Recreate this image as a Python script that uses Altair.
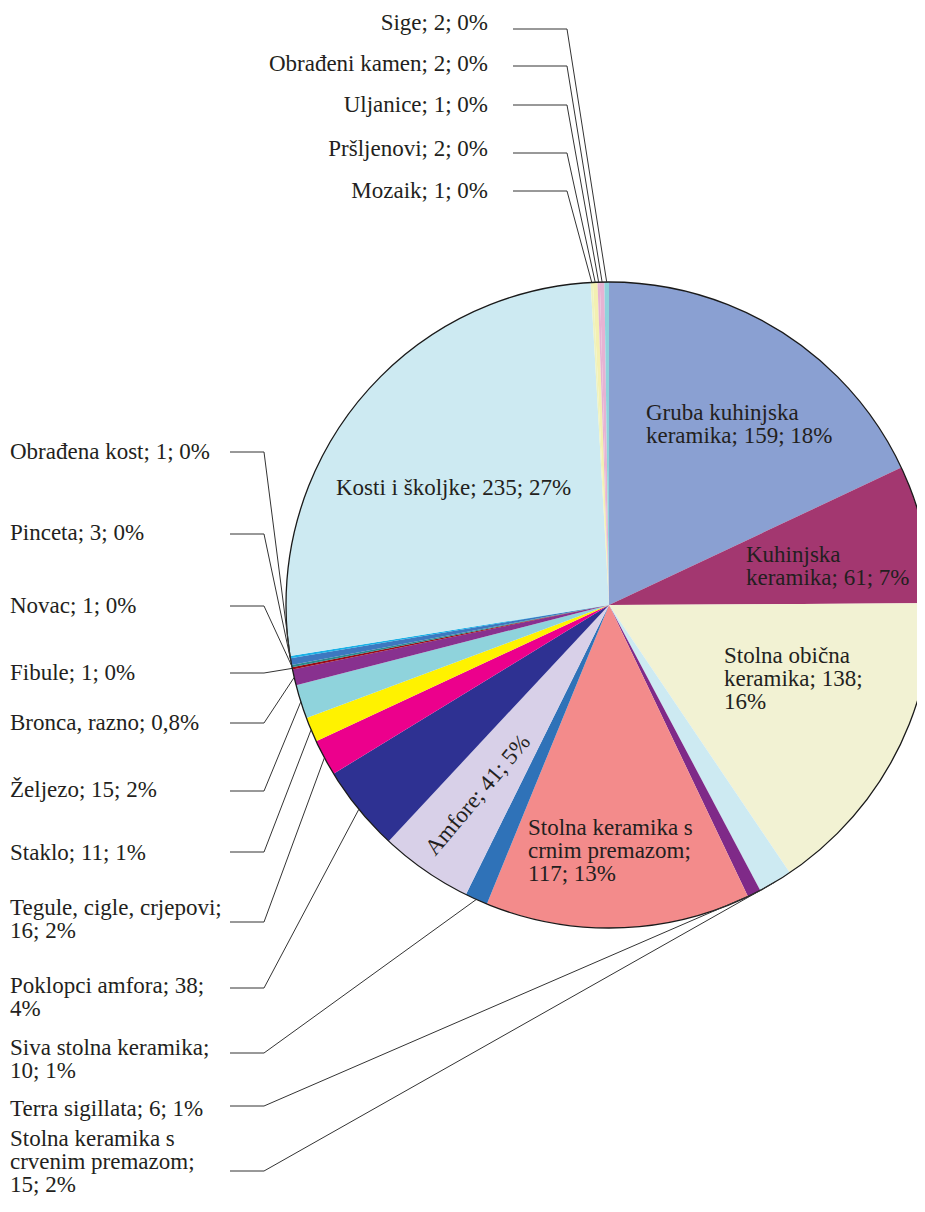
import altair as alt
import pandas as pd
import numpy as np

# ---------------- data (clockwise from 12 o'clock) ----------------
categories = [
    "Gruba kuhinjska keramika", "Kuhinjska keramika", "Stolna obična keramika",
    "Stolna keramika s crvenim premazom", "Terra sigillata",
    "Stolna keramika s crnim premazom", "Siva stolna keramika", "Amfore",
    "Poklopci amfora", "Tegule, cigle, crjepovi", "Staklo", "Željezo",
    "Bronca, razno", "Fibule", "Novac", "Pinceta", "Obrađena kost",
    "Kosti i školjke", "Mozaik", "Pršljenovi", "Uljanice", "Obrađeni kamen", "Sige",
]
values = [159, 61, 138, 15, 6, 117, 10, 41, 38, 16, 11, 15, 7, 1, 1, 3, 1, 235, 1, 2, 1, 2, 2]
label_texts = [
    "Gruba kuhinjska\nkeramika; 159; 18%",
    "Kuhinjska\nkeramika; 61; 7%",
    "Stolna obična\nkeramika; 138;\n16%",
    "Stolna keramika s\ncrvenim premazom;\n15; 2%",
    "Terra sigillata; 6; 1%",
    "Stolna keramika s\ncrnim premazom;\n117; 13%",
    "Siva stolna keramika;\n10; 1%",
    "Amfore; 41; 5%",
    "Poklopci amfora; 38;\n4%",
    "Tegule, cigle, crjepovi;\n16; 2%",
    "Staklo; 11; 1%",
    "Željezo; 15; 2%",
    "Bronca, razno; 0,8%",
    "Fibule; 1; 0%",
    "Novac; 1; 0%",
    "Pinceta; 3; 0%",
    "Obrađena kost; 1; 0%",
    "Kosti i školjke; 235; 27%",
    "Mozaik; 1; 0%",
    "Pršljenovi; 2; 0%",
    "Uljanice; 1; 0%",
    "Obrađeni kamen; 2; 0%",
    "Sige; 2; 0%",
]
colors = [
    "#8aa0d2", "#a33770", "#f2f2d3", "#cdeaf2", "#7f2a88",
    "#f38b8b", "#2f72b8", "#d8d0e8", "#2e3192", "#ec008c",
    "#fff200", "#8fd3dc", "#88318f", "#9b0a12", "#2a8a8f",
    "#3d78c0", "#1ab0e6", "#cdeaf2", "#eef2c0", "#f3f0b2",
    "#e6b3d3", "#e6b3d3", "#8fd3dc",
]

# ---------------- layout (image pixel coordinates) ----------------
W, H, OFF = 909, 1190, 8
CX, CY, R = 609, 605, 323
LH = 23.2

inside_pos = {  # name: (x, first-line baseline)
    "Gruba kuhinjska keramika": (646, 420),
    "Kuhinjska keramika": (746, 562),
    "Stolna obična keramika": (724, 663),
    "Stolna keramika s crnim premazom": (528, 835),
    "Kosti i školjke": (336, 495),
}
rotated_pos = {"Amfore": (478, 795, 310)}
left_pos = {  # name: (first-line baseline, leader y)
    "Obrađena kost": (459, 452),
    "Pinceta": (540, 534),
    "Novac": (613, 606),
    "Fibule": (680, 673),
    "Bronca, razno": (730, 723),
    "Željezo": (797, 791),
    "Staklo": (860, 852),
    "Tegule, cigle, crjepovi": (915, 922),
    "Poklopci amfora": (993, 988),
    "Siva stolna keramika": (1055, 1053),
    "Terra sigillata": (1116, 1106),
    "Stolna keramika s crvenim premazom": (1146, 1171),
}
top_pos = {
    "Sige": (30, 29),
    "Obrađeni kamen": (71, 66),
    "Uljanice": (112, 105),
    "Pršljenovi": (156, 153),
    "Mozaik": (198, 191),
}
LEFT_TEXT_X, LEFT_LINE_X0, LEFT_ELBOW = 10, 230, 264
TOP_TEXT_X, TOP_LINE_X0, TOP_ELBOW = 488, 513, 567
MID_SHIFT = 7  # baseline -> visual middle

# ---------------- derived tables ----------------
df = pd.DataFrame({"cat": categories, "value": values, "idx": range(len(values))})
total = df["value"].sum()
cum = df["value"].cumsum() - df["value"] / 2
df["mid"] = cum / total * 2 * np.pi
df["ex"] = CX + R * np.sin(df["mid"])
df["ey"] = CY - R * np.cos(df["mid"])
lab = dict(zip(categories, label_texts))
edge = {c: (ex, ey) for c, ex, ey in zip(df["cat"], df["ex"], df["ey"])}

texts, rules = [], []


def add_text(x, y, t, grp):
    for i, line in enumerate(t.split("\n")):
        texts.append({"x": x, "y": y + i * LH - MID_SHIFT, "t": line, "g": grp})


for c, (x, y) in inside_pos.items():
    add_text(x, y, lab[c], "in")
for c, (ty, ly) in left_pos.items():
    add_text(LEFT_TEXT_X, ty, lab[c], "left")
    ex, ey = edge[c]
    rules.append({"x": LEFT_LINE_X0, "y": ly, "x2": LEFT_ELBOW, "y2": ly})
    rules.append({"x": LEFT_ELBOW, "y": ly, "x2": ex, "y2": ey})
for c, (ty, ly) in top_pos.items():
    add_text(TOP_TEXT_X, ty, lab[c], "top")
    ex, ey = edge[c]
    rules.append({"x": TOP_LINE_X0, "y": ly, "x2": TOP_ELBOW, "y2": ly})
    rules.append({"x": TOP_ELBOW, "y": ly, "x2": ex, "y2": ey})
tdf = pd.DataFrame(texts)
rdf = pd.DataFrame(rules)
rot = pd.DataFrame([{"x": v[0], "y": v[1], "t": lab[k]} for k, v in rotated_pos.items()])

xs = alt.Scale(domain=[OFF, OFF + W], nice=False, zero=False)
ys = alt.Scale(domain=[OFF, OFF + H], nice=False, zero=False, reverse=True)
FONT = "Liberation Serif"
TXT = "#231f20"

pie = alt.Chart(df).mark_arc(radius=R, strokeWidth=0).encode(
    theta=alt.Theta("value:Q", stack=True),
    order=alt.Order("idx:Q"),
    color=alt.Color("cat:N", scale=alt.Scale(domain=categories, range=colors), legend=None),
    x=alt.value(CX - OFF),
    y=alt.value(CY - OFF),
)
# circular outline of the whole pie
outline = alt.Chart(pd.DataFrame({"v": [1]})).mark_point(
    shape="circle", size=(2 * R) ** 2, filled=False, stroke="#1a1a1a",
    strokeWidth=1.3, opacity=1,
).encode(x=alt.value(CX - OFF), y=alt.value(CY - OFF))

leaders = alt.Chart(rdf).mark_rule(color="#333333", strokeWidth=1).encode(
    x=alt.X("x:Q", scale=xs, axis=None),
    y=alt.Y("y:Q", scale=ys, axis=None),
    x2="x2:Q", y2="y2:Q",
)


def text_layer(data, align):
    return alt.Chart(data).mark_text(
        font=FONT, fontSize=23, color=TXT, align=align, baseline="middle",
    ).encode(x=alt.X("x:Q", scale=xs, axis=None), y=alt.Y("y:Q", scale=ys, axis=None), text="t:N")


in_text = text_layer(tdf[tdf.g == "in"], "left")
left_text = text_layer(tdf[tdf.g == "left"], "left")
top_text = text_layer(tdf[tdf.g == "top"], "right")

rot_text = alt.Chart(rot).mark_text(
    font=FONT, fontSize=23, color=TXT, align="center", baseline="middle",
    angle=rotated_pos["Amfore"][2],
).encode(x=alt.X("x:Q", scale=xs, axis=None), y=alt.Y("y:Q", scale=ys, axis=None), text="t:N")

chart = alt.layer(pie, outline, leaders, in_text, left_text, top_text, rot_text).properties(
    width=W, height=H, padding=0, autosize=alt.AutoSizeParams(type="none")
).configure_view(stroke=None)

chart.save("out.html", embed_options={"renderer": "svg", "actions": False})
